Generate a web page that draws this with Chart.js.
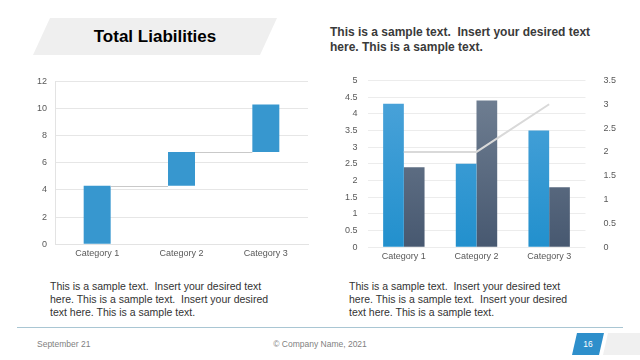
<!DOCTYPE html>
<html>
<head>
<meta charset="utf-8">
<script src="https://cdn.jsdelivr.net/npm/chart.js@4/dist/chart.umd.min.js"></script>
<style>
  body { margin: 0; width: 640px; height: 360px; background: #fff; position: relative; overflow: hidden; font-family: "Liberation Sans", Arial, sans-serif; }
  .abs { position: absolute; }
  #titleBg { left: 33px; top: 18px; width: 244px; height: 37px; background: #efefef; clip-path: polygon(17px 0, 100% 0, 227px 100%, 0 100%); }
  #title { left: 33px; top: 18px; width: 244px; height: 37px; line-height: 37px; text-align: center; font-weight: bold; font-size: 17px; color: #000; }
  #head { left: 330px; top: 25px; font-weight: bold; font-size: 12px; line-height: 15px; color: #3a3a3a; }
  .note { font-size: 10.5px; line-height: 13px; color: #333; }
  #foot { left: 17px; top: 327px; width: 606px; height: 1px; background: #a9c6d3; }
  .ft { top: 339px; font-size: 8.5px; color: #7f7f7f; }
  #pg { left: 572px; top: 333px; width: 32px; height: 22px; background: #2e8fcb; clip-path: polygon(5px 0, 100% 0, 27px 100%, 0 100%); color: #fff; font-size: 8.5px; line-height: 22px; text-align: center; }
  #pg2 { left: 603px; top: 333px; width: 40px; height: 22px; background: #f0f0f0; clip-path: polygon(5px 0, 100% 0, 100% 100%, 0 100%); }
</style>
</head>
<body>
<div id="titleBg" class="abs"></div>
<div id="title" class="abs">Total Liabilities</div>
<div id="head" class="abs">This is a sample text.&nbsp; Insert your desired text<br>here. This is a sample text.</div>

<div class="abs" style="left:20px;top:68px;width:300px;height:195px;"><canvas id="left"></canvas></div>
<div class="abs" style="left:330px;top:65px;width:310px;height:201px;"><canvas id="right"></canvas></div>

<div class="abs note" style="left:50px;top:280px;">This is a sample text.&nbsp; Insert your desired text<br>here. This is a sample text.&nbsp; Insert your desired<br>text here. This is a sample text.</div>
<div class="abs note" style="left:349px;top:280px;">This is a sample text.&nbsp; Insert your desired text<br>here. This is a sample text.&nbsp; Insert your desired<br>text here. This is a sample text.</div>

<div id="foot" class="abs"></div>
<div class="abs ft" style="left:37px;">September 21</div>
<div class="abs ft" style="left:0;width:640px;text-align:center;">© Company Name, 2021</div>
<div id="pg" class="abs">16</div>
<div id="pg2" class="abs"></div>

<script>
var categories = ["Category 1", "Category 2", "Category 3"];
// waterfall: each step adds to the running total
var stepStarts = [0, 4.3, 6.8];
var stepEnds = [4.3, 6.8, 10.3];
// right chart
var series1 = [4.3, 2.5, 3.5];
var series2 = [2.4, 4.4, 1.8];
var series3 = [2, 2, 3];

Chart.defaults.font.family = '"Liberation Sans", Arial, sans-serif';
Chart.defaults.font.size = 9;
Chart.defaults.color = "#595959";

var connectors = {
  id: "connectors",
  afterDatasetsDraw: function (chart) {
    var meta = chart.getDatasetMeta(0);
    var y = chart.scales.y;
    var c = chart.ctx;
    c.save();
    c.strokeStyle = "#c9c9c9";
    c.lineWidth = 1;
    for (var i = 0; i < meta.data.length - 1; i++) {
      var a = meta.data[i], b = meta.data[i + 1];
      var py = Math.round(y.getPixelForValue(stepEnds[i])) + 0.5;
      c.beginPath();
      c.moveTo(a.x + a.width / 2, py);
      c.lineTo(b.x - b.width / 2, py);
      c.stroke();
    }
    c.restore();
  }
};

new Chart(document.getElementById("left"), {
  type: "bar",
  data: {
    labels: categories,
    datasets: [{
      data: stepStarts.map(function (s, i) { return [s, stepEnds[i]]; }),
      backgroundColor: "#3797cf",
      barPercentage: 0.32,
      categoryPercentage: 1
    }]
  },
  options: {
    responsive: true,
    maintainAspectRatio: false,
    animation: false,
    layout: { padding: { top: 6, right: 12, left: 9, bottom: 0 } },
    plugins: { legend: { display: false }, tooltip: { enabled: false } },
    scales: {
      x: { grid: { display: false, drawTicks: false }, border: { color: "#e3e3e3" }, ticks: { padding: 4 } },
      y: {
        min: 0, max: 12,
        ticks: { stepSize: 2, padding: 8 },
        grid: { color: "#e6e6e6", drawTicks: false },
        border: { color: "#e3e3e3" }
      }
    }
  },
  plugins: [connectors]
});

function vGrad(top, bottom) {
  return function (ctx) {
    var chart = ctx.chart;
    var area = chart.chartArea;
    if (!area) return top;
    var g = chart.ctx.createLinearGradient(0, area.top, 0, area.bottom);
    g.addColorStop(0, top);
    g.addColorStop(1, bottom);
    return g;
  };
}

function plain(v) { return String(v); }

new Chart(document.getElementById("right"), {
  type: "bar",
  data: {
    labels: categories,
    datasets: [
      { type: "line", data: series3, yAxisID: "y1", borderColor: "#d9d9d9", borderWidth: 2, pointRadius: 0, order: 0, tension: 0 },
      { data: series1, backgroundColor: vGrad("#4ea4da", "#2290cd"), barPercentage: 1, categoryPercentage: 0.57, order: 1 },
      { data: series2, backgroundColor: vGrad("#738295", "#475870"), barPercentage: 1, categoryPercentage: 0.57, order: 1 }
    ]
  },
  options: {
    responsive: true,
    maintainAspectRatio: false,
    animation: false,
    layout: { padding: { top: 0, right: 14, left: 5, bottom: 0 } },
    plugins: { legend: { display: false }, tooltip: { enabled: false } },
    scales: {
      x: { grid: { display: false, drawTicks: false }, border: { display: false }, ticks: { padding: 4 } },
      y: {
        min: 0, max: 5,
        ticks: { stepSize: 0.5, padding: 10, callback: plain },
        grid: { color: "#ececec", drawTicks: false },
        border: { display: false }
      },
      y1: {
        position: "right",
        min: 0, max: 3.5,
        ticks: { stepSize: 0.5, padding: 10, callback: plain },
        grid: { display: false },
        border: { display: false }
      }
    }
  }
});
</script>
</body>
</html>
